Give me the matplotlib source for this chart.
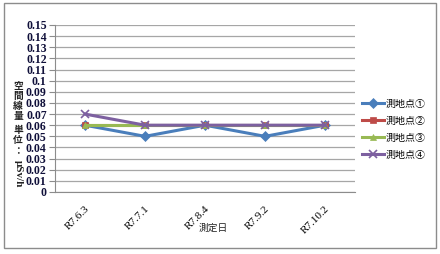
import matplotlib
matplotlib.use("Agg")
import matplotlib.pyplot as plt
from matplotlib.patches import Rectangle

categories = ["R7.6.3", "R7.7.1", "R7.8.4", "R7.9.2", "R7.10.2"]
series_names = ["測地点①", "測地点②", "測地点③", "測地点④"]
s1 = [0.06, 0.05, 0.06, 0.05, 0.06]
s2 = [0.06, 0.06, 0.06, 0.06, 0.06]
s3 = [0.06, 0.06, 0.06, 0.06, 0.06]
s4 = [0.07, 0.06, 0.06, 0.06, 0.06]
y_ticks = [0, 0.01, 0.02, 0.03, 0.04, 0.05, 0.06, 0.07, 0.08, 0.09, 0.1,
           0.11, 0.12, 0.13, 0.14, 0.15]
y_tick_labels = ["0", "0.01", "0.02", "0.03", "0.04", "0.05", "0.06", "0.07",
                 "0.08", "0.09", "0.1", "0.11", "0.12", "0.13", "0.14", "0.15"]
y_title_cjk = "空間線量単位："
y_title_unit = "μSv/h"
x_title = "測定日"

colors = ["#4A7EBB", "#BE4B48", "#98B954", "#7D60A0"]
markers = ["D", "s", "^", "x"]

cjk = ["Noto Sans CJK JP", "DejaVu Sans"]
serif = ["Liberation Serif", "DejaVu Serif"]

W, H = 440, 254
fig = plt.figure(figsize=(W / 100, H / 100), dpi=100)
fig.patch.set_facecolor("white")

# outer border
fig.add_artist(Rectangle((4 / W, 1 - 248 / H), (436 - 4) / W, (248 - 3) / H,
                         transform=fig.transFigure, fill=False,
                         edgecolor="#8C8C8C", linewidth=1.0))

left, right, top, bottom = 55, 355, 25, 192
ax = fig.add_axes([left / W, 1 - bottom / H, (right - left) / W, (bottom - top) / H])

x = list(range(len(categories)))
all_series = [s1, s2, s3, s4]
for i, (vals, name) in enumerate(zip(all_series, series_names)):
    ms = 5 if markers[i] != "x" else 6
    ax.plot(x, vals, color=colors[i], linewidth=2.2, marker=markers[i],
            markersize=ms, markeredgewidth=1.2 if markers[i] == "x" else 0.5,
            label=name, zorder=3 + i)

ax.set_xlim(-0.5, len(categories) - 0.5)
ax.set_ylim(0, 0.15)
ax.set_yticks(y_ticks)
ax.set_yticklabels(y_tick_labels, fontfamily=serif, fontsize=8.5, fontweight="bold")
ax.set_xticks(x)
ax.set_xticklabels(categories, fontfamily=serif, fontsize=8, rotation=45,
                   ha="right", va="top", rotation_mode="anchor")
ax.grid(axis="y", color="#A6A6A6", linewidth=0.9)
ax.set_axisbelow(True)
for s in ["top", "right"]:
    ax.spines[s].set_visible(False)
ax.spines["left"].set_color("#8C8C8C")
ax.spines["bottom"].set_color("#8C8C8C")
ax.tick_params(axis="y", length=4, color="#8C8C8C", pad=2, labelcolor="#10103A")
ax.tick_params(axis="x", length=0, pad=9, labelcolor="#000000")

# x axis title
fig.text(213 / W, 1 - 228 / H, x_title, fontfamily=cjk, fontsize=7,
         ha="center", va="center", color="#222222")

# y axis title (stacked vertical text)
char_y = [86, 96, 106, 116, 130, 140, 151]
for ch, yy in zip(y_title_cjk, char_y):
    fig.text(18 / W, 1 - yy / H, ch, fontfamily=cjk, fontsize=7,
             fontweight="bold", ha="center", va="center", color="#222222")
fig.text(18 / W, 1 - 174 / H, y_title_unit, fontfamily=serif, fontsize=8,
         fontweight="bold", rotation=-90, ha="center", va="center",
         color="#222222")

leg = fig.legend(loc="center left", bbox_to_anchor=(358 / W, 1 - 129 / H),
                 frameon=False, prop={"family": cjk, "size": 7.2},
                 handlelength=2.2, handletextpad=0.2, labelspacing=0.7,
                 borderaxespad=0)

fig.savefig("out.png", dpi=100)
